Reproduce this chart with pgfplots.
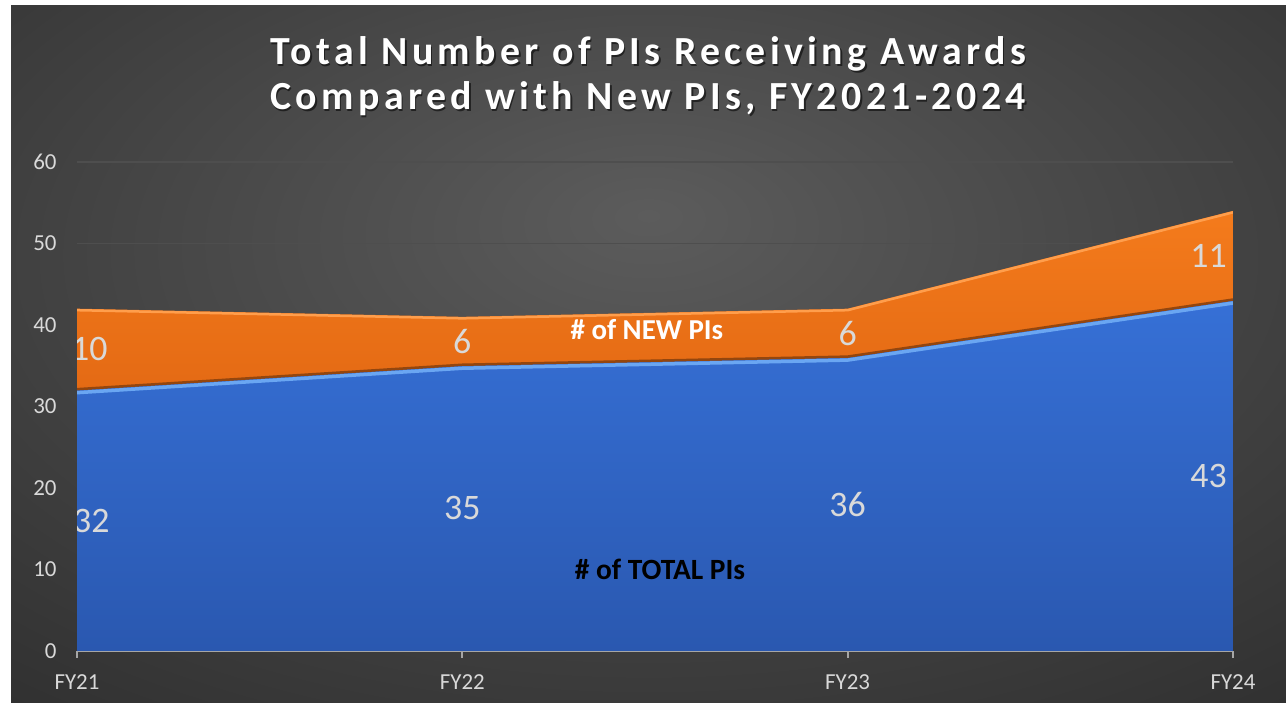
\documentclass[border=0pt]{standalone}
\usepackage{pgfplots}
\pgfplotsset{compat=1.18}
\usepackage{fontspec}
\setmainfont{Carlito}
\newfontfamily\titlefont[LetterSpace=11]{Carlito}
\definecolor{bgA}{HTML}{5C5C5C}
\definecolor{bgB}{HTML}{4A4A4A}
\definecolor{bgC}{HTML}{2E2E2E}
\definecolor{bgD}{HTML}{262626}
\definecolor{blueT}{HTML}{3670D6}
\definecolor{blueB}{HTML}{2A58B0}
\definecolor{blueLight}{HTML}{6AA6F2}
\definecolor{orT}{HTML}{F47B1C}
\definecolor{orB}{HTML}{E46A14}
\definecolor{orLight}{HTML}{FF9E4C}
\definecolor{orDark}{HTML}{94460E}
\definecolor{gridgray}{HTML}{4E4E4E}
\definecolor{axisgray}{HTML}{A6A6A6}
\definecolor{labelgray}{HTML}{D9D9D9}
\pgfdeclareradialshading{bgshade}{\pgfpoint{0bp}{10bp}}{color(0bp)=(bgA); color(16bp)=(bgB); color(42bp)=(bgC); color(80bp)=(bgD)}
\begin{document}
\begin{tikzpicture}[x=1bp,y=1bp]
\fill[white] (0,0) rectangle (1286,712);
\useasboundingbox (0,0) rectangle (1286,712);
\shade[shading=bgshade] (11,9) rectangle (1286,706);
% title
\begin{scope}[font=\titlefont\bfseries\fontsize{40}{46}\selectfont]
\node[anchor=base, text=black, opacity=0.55] at (649.5,645) {Total Number of PIs Receiving Awards};
\node[anchor=base, text=black, opacity=0.55] at (649.5,600) {Compared with New PIs, FY2021-2024};
\node[anchor=base, text=white] at (648,647) {Total Number of PIs Receiving Awards};
\node[anchor=base, text=white] at (648,602) {Compared with New PIs, FY2021-2024};
\end{scope}
\begin{axis}[
  at={(77bp,61bp)}, anchor=south west,
  scale only axis, width=1156bp, height=489bp,
  xmin=0, xmax=3, ymin=0, ymax=60,
  stack plots=y,
  axis x line*=bottom, axis y line*=left,
  y axis line style={draw=none},
  x axis line style={draw=axisgray, line width=2bp, -},
  xtick={0,1,2,3}, xticklabels={FY21,FY22,FY23,FY24},
  ytick={0,10,...,60},
  xtick align=outside,
  major tick length=7bp,
  x tick style={draw=axisgray, line width=2bp},
  y tick style={draw=none},
  ymajorgrids, grid style={draw=gridgray, line width=1.3bp},
  tick label style={font=\fontsize{23}{27}\selectfont, text=labelgray},
  yticklabel style={xshift=-17bp},
  xticklabel style={yshift=-13bp},
  /pgf/number format/assume math mode=true,
]
\addplot[draw=none, top color=blueT, bottom color=blueB] coordinates {(0,32)(1,35)(2,36)(3,43)} \closedcycle;
\addplot[draw=none, top color=orT, bottom color=orB] coordinates {(0,10)(1,6)(2,6)(3,11)} \closedcycle;
\end{axis}
\begin{axis}[
  at={(77bp,61bp)}, anchor=south west,
  scale only axis, width=1156bp, height=489bp,
  xmin=0, xmax=3, ymin=0, ymax=60,
  hide axis,
]
\addplot[draw=orDark, line width=2.5bp, yshift=1bp] coordinates {(0,32)(1,35)(2,36)(3,43)};
\addplot[draw=blueLight, line width=3.5bp, yshift=-2.5bp] coordinates {(0,32)(1,35)(2,36)(3,43)};
\addplot[draw=orLight, line width=2.5bp, yshift=-1.5bp] coordinates {(0,42)(1,41)(2,42)(3,54)};
\begin{scope}[every node/.style={font=\fontsize{36}{40}\selectfont, text=labelgray, inner sep=0pt}]
\node[anchor=west, xshift=-6bp] at (axis cs:0,37) {10};
\node[anchor=west, xshift=-4bp] at (axis cs:0,16) {32};
\node at (axis cs:1,38) {6};
\node at (axis cs:1,17.5) {35};
\node at (axis cs:2,39) {6};
\node at (axis cs:2,18) {36};
\node[anchor=east, xshift=-6bp] at (axis cs:3,48.5) {11};
\node[anchor=east, xshift=-6bp] at (axis cs:3,21.5) {43};
\end{scope}
\node[font=\bfseries\fontsize{29}{33}\selectfont, text=white, anchor=base] at (axis cs:1.479,38.2) {\# of NEW PIs};
\node[font=\bfseries\fontsize{29.5}{33}\selectfont, text=black, anchor=base] at (axis cs:1.513,8.8) {\# of TOTAL PIs};
\end{axis}
\end{tikzpicture}
\end{document}
